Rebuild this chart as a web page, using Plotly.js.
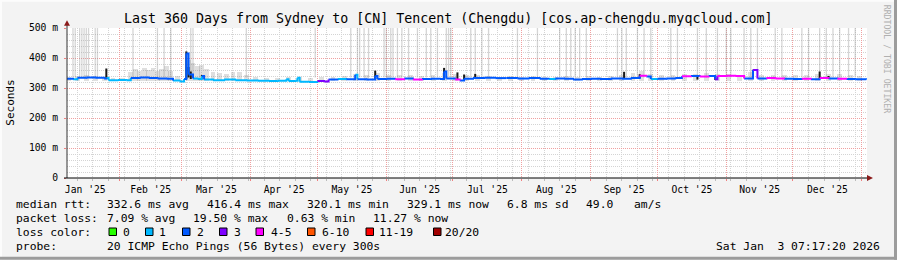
<!DOCTYPE html>
<html><head><meta charset="utf-8">
<script src="https://cdn.plot.ly/plotly-3.0.1.min.js"></script>
<style>html,body{margin:0;padding:0;background:#f3f3f3;}#chart{width:897px;height:260px;}</style>
</head><body><div id="chart"></div>
<script>
// ---------------- DATA ----------------
const rangeStart = '2025-01-08 07:17:20';
const rangeEnd = '2026-01-03 07:17:20';
const yTickVals = [0, 100, 200, 300, 400, 500];
const yTickText = ['0', '100 m', '200 m', '300 m', '400 m', '500 m'];

// median RTT (ms) and loss colour index (0..7)
const medDates = ['2025-01-08','2025-01-11','2025-01-13','2025-01-17','2025-01-21','2025-01-25','2025-01-26','2025-01-27','2025-01-31','2025-02-04',
'2025-02-06','2025-02-10','2025-02-14','2025-02-18','2025-02-22','2025-02-25','2025-02-28','2025-03-02','2025-03-03','2025-03-04',
'2025-03-06','2025-03-08','2025-03-10','2025-03-11','2025-03-15','2025-03-20','2025-03-25','2025-03-30','2025-04-04','2025-04-09',
'2025-04-13','2025-04-17','2025-04-18','2025-04-21','2025-04-22','2025-04-23','2025-04-27','2025-05-01','2025-05-04','2025-05-06',
'2025-05-10','2025-05-14','2025-05-18','2025-05-19','2025-05-23','2025-05-27','2025-05-28','2025-06-01','2025-06-05','2025-06-09',
'2025-06-13','2025-06-17','2025-06-21','2025-06-25','2025-06-27','2025-06-28','2025-07-02','2025-07-04','2025-07-06','2025-07-10',
'2025-07-15','2025-07-20','2025-07-25','2025-07-30','2025-08-04','2025-08-09','2025-08-13','2025-08-16','2025-08-20','2025-08-24',
'2025-08-28','2025-09-01','2025-09-05','2025-09-10','2025-09-15','2025-09-19','2025-09-23','2025-09-26','2025-09-28','2025-10-01',
'2025-10-05','2025-10-09','2025-10-12','2025-10-16','2025-10-20','2025-10-24','2025-10-27','2025-10-28','2025-11-01','2025-11-05',
'2025-11-09','2025-11-13','2025-11-15','2025-11-19','2025-11-23','2025-11-27','2025-12-01','2025-12-05','2025-12-09','2025-12-13',
'2025-12-17','2025-12-21','2025-12-25','2025-12-29','2026-01-03'];
const medValues = [331,329,334,335,334,332,333,326,327,326,
333,335,333,332,331,325,322,330,415,345,
332,330,340,328,326,328,326,325,324,323,
324,329,323,324,334,321,320,323,322,328,
330,329,344,329,328,340,330,331,329,332,
328,330,331,330,355,332,328,325,331,333,
334,333,333,332,333,331,330,332,331,328,
330,331,330,332,331,333,341,338,330,331,
332,333,339,340,338,340,329,340,341,340,
332,360,332,333,332,331,330,331,329,333,
332,331,330,329,328];
const medLoss = [2,1,2,2,2,2,1,1,1,1,
2,2,2,2,2,1,1,2,2,2,
1,1,2,1,1,1,1,1,1,1,
1,1,1,1,1,1,1,3,3,2,
1,2,1,2,2,2,2,2,4,2,
4,2,2,2,2,2,4,2,2,2,
2,2,2,2,2,2,1,2,2,2,
2,2,2,2,2,2,4,2,1,2,
2,2,4,2,4,2,3,4,4,4,
2,3,2,4,4,2,2,4,2,4,
2,4,2,2,2];

// broad smoke band (top of the grey smoke, ms)
const smokeDates = ['2025-01-09','2025-01-13','2025-01-17','2025-01-21','2025-01-25','2025-01-29','2025-02-02','2025-02-06','2025-02-08','2025-02-10',
'2025-02-12','2025-02-14','2025-02-16','2025-02-18','2025-02-20','2025-02-22','2025-02-24','2025-02-27','2025-03-04','2025-03-06',
'2025-03-08','2025-03-10','2025-03-12','2025-03-15','2025-03-18','2025-03-21','2025-03-24','2025-03-27','2025-03-30','2025-04-03',
'2025-04-08','2025-04-13','2025-04-18','2025-04-23','2025-04-28','2025-05-03','2025-05-08','2025-05-13','2025-05-18','2025-05-23',
'2025-05-28','2025-06-02','2025-06-07','2025-06-12','2025-06-17','2025-06-22','2025-06-27','2025-07-02','2025-07-07','2025-07-12',
'2025-07-17','2025-07-22','2025-07-27','2025-08-01','2025-08-06','2025-08-11','2025-08-16','2025-08-21','2025-08-26','2025-08-31',
'2025-09-05','2025-09-10','2025-09-15','2025-09-20','2025-09-24','2025-09-28','2025-10-03','2025-10-08','2025-10-13','2025-10-18',
'2025-10-23','2025-10-28','2025-11-02','2025-11-07','2025-11-12','2025-11-17','2025-11-22','2025-11-27','2025-12-02','2025-12-07',
'2025-12-12','2025-12-17','2025-12-22','2025-12-27','2025-12-31'];
const smokeTop = [338,340,342,340,338,332,333,352,362,358,
366,360,368,356,365,372,358,340,392,385,
375,378,365,352,350,347,352,355,345,336,
334,335,336,338,332,336,338,340,348,342,
350,345,342,344,341,343,350,346,345,344,
340,338,339,338,339,337,338,340,338,339,
338,340,345,350,356,348,342,345,347,348,
350,348,347,345,355,342,344,343,342,344,
348,346,348,345,340];
const smokeBase = 322;

// isolated pings reaching the top of the graph (light smoke)
const outlierDates = ['2025-01-11','2025-01-12','2025-01-14','2025-01-15','2025-01-16','2025-01-17','2025-01-18','2025-01-21','2025-01-22','2025-02-07',
'2025-02-18','2025-02-21','2025-02-24','2025-03-05','2025-03-06','2025-03-30','2025-04-30','2025-05-16','2025-05-19','2025-05-20',
'2025-05-22','2025-05-24','2025-05-31','2025-06-01','2025-06-03','2025-06-04','2025-06-06','2025-06-08','2025-06-11','2025-06-15',
'2025-06-19','2025-06-21','2025-06-24','2025-06-28','2025-06-29','2025-06-30','2025-07-09','2025-07-11','2025-07-14','2025-07-17',
'2025-07-30','2025-08-08','2025-08-18','2025-08-21','2025-08-23','2025-08-25','2025-08-27','2025-08-30','2025-09-13','2025-09-15',
'2025-09-17','2025-09-22','2025-09-25','2025-09-28','2025-10-07','2025-10-10','2025-10-19','2025-10-23','2025-10-28','2025-11-01',
'2025-11-03','2025-11-09','2025-11-12','2025-11-15','2025-11-23','2025-11-26','2025-12-05','2025-12-08','2025-12-13','2025-12-16',
'2025-12-19','2025-12-22','2025-12-26','2025-12-29'];
const outlierTop = 520;
const outlierBase = 335;

// dense dark smoke spikes
const darkDates = ['2025-01-26','2025-03-03','2025-03-04','2025-03-05','2025-03-10','2025-05-27','2025-06-27','2025-07-03','2025-07-06','2025-07-11',
'2025-09-16','2025-09-23','2025-10-19','2025-10-27','2025-11-13','2025-12-13','2025-12-17'];
const darkLow = [330,330,335,330,330,330,330,330,330,330,330,332,328,327,335,330,330];
const darkHigh = [365,422,370,355,343,358,367,352,345,347,354,346,340,340,361,355,340];

const lossColors = ['#26ff00','#00b8ff','#0059ff','#7e00ff','#ff00ff','#ff5500','#ff0000','#a10000'];
const lossLabels = ['0','1','2','3','4-5','6-10','11-19','20/20'];

// legend texts
const legendHeads = ['median rtt:', 'packet loss:', 'loss color:', 'probe:'];
const rttChunks = ['332.6 ms avg', '416.4 ms max', '320.1 ms min', '329.1 ms now', '6.8 ms sd', '49.0', 'am/s'];
const lossChunks = ['7.09 % avg', '19.50 % max', '0.63 % min', '11.27 % now'];
const probeText = '20 ICMP Echo Pings (56 Bytes) every 300s';
const stampText = 'Sat Jan  3 07:17:20 2026';
const titleText = 'Last 360 Days from Sydney to [CN] Tencent (Chengdu) [cos.ap-chengdu.myqcloud.com]';

// ---------------- LAYOUT HELPERS ----------------
const W = 897, H = 260, L = 67, R = 867, T = 28.3, B = 178.3;
const px = x => (x - L) / (R - L);
const py = y => (B - y) / (B - T);
const MONO = 'DejaVu Sans Mono, monospace';
const FS = 11.35;
const DAY = 86400000;
const rowY = [204.3, 218.3, 232.3, 246.3];
const rttX = [107.3, 207.3, 307.3, 407.3, 506.7, 585.7, 634.3];
const lossX = [107.3, 193.3, 286.7, 372.7];
const boxX = [109, 145.5, 182.5, 219.5, 256, 307.5, 366, 433.5];
const labX = [123.3, 159.3, 196.7, 234, 271, 321.7, 379.3, 445];

const traces = [];
traces.push({type:'bar', x:smokeDates, y:smokeTop.map(v=>v-smokeBase), base:smokeBase,
  width:2.2*DAY, marker:{color:'rgba(120,120,120,0.24)', line:{width:0}}, hoverinfo:'skip', showlegend:false});

const ox=[], oy=[];
outlierDates.forEach(d=>{ox.push(d,d,null); oy.push(outlierBase,outlierTop,null);});
traces.push({type:'scatter', mode:'lines', x:ox, y:oy, line:{color:'rgba(150,150,150,0.40)', width:1.3}, hoverinfo:'skip', showlegend:false});

const dx=[], dy=[];
darkDates.forEach((d,i)=>{dx.push(d,d,null); dy.push(darkLow[i],darkHigh[i],null);});
traces.push({type:'scatter', mode:'lines', x:dx, y:dy, line:{color:'#1a1a1a', width:2}, hoverinfo:'skip', showlegend:false});

lossColors.forEach((c,k)=>{
  const x=[], y=[];
  for(let i=0;i<medDates.length-1;i++){
    if(medLoss[i]===k){ x.push(medDates[i], medDates[i+1], null); y.push(medValues[i], medValues[i+1], null); }
  }
  if(x.length) traces.push({type:'scatter', mode:'lines', x:x, y:y, line:{color:c, width:2, shape:'hv'}, hoverinfo:'skip', showlegend:false});
});

const ann = [];
const shapes = [];
function txt(t, x, y, anchor, extra){
  ann.push(Object.assign({xref:'paper', yref:'paper', x:px(x), y:py(y), xanchor:anchor||'left', yanchor:'middle', showarrow:false,
    borderpad:0, borderwidth:0, text:t.replace(/ /g,'&nbsp;'), font:{family:MONO, size:FS, color:'#000'}}, extra||{}));
}
legendHeads.forEach((t,i)=>txt(t, 16, rowY[i]));
rttChunks.forEach((t,i)=>txt(t, rttX[i], rowY[0]));
lossChunks.forEach((t,i)=>txt(t, lossX[i], rowY[1]));
txt(probeText, 107.3, rowY[3]);
lossColors.forEach((c,i)=>{
  shapes.push({type:'rect', xref:'paper', yref:'paper', x0:px(boxX[i]), x1:px(boxX[i]+7.5), y0:py(228.3), y1:py(235.8), fillcolor:c, line:{color:'#000', width:1}});
  txt(lossLabels[i], labX[i], rowY[2]);
});
txt(stampText, 880, rowY[3], 'right');
txt(titleText, 448, 19, 'center', {font:{family:MONO, size:13.3, color:'#000'}});
txt('Seconds', 11, 103, 'center', {textangle:-90, font:{family:MONO, size:11, color:'#000'}});
txt('RRDTOOL / TOBI OETIKER', 887, 60, 'center', {textangle:90, font:{family:MONO, size:8.2, color:'#b0b0b0'}});

// axes lines + arrows
shapes.push({type:'line', xref:'paper', yref:'paper', x0:px(67), x1:px(67), y0:py(B), y1:py(24), line:{color:'#333', width:1}});
shapes.push({type:'path', xref:'paper', yref:'paper', path:`M ${px(64)} ${py(26)} L ${px(70)} ${py(26)} L ${px(67)} ${py(20.5)} Z`, fillcolor:'#8b1a1a', line:{width:0}});
shapes.push({type:'line', xref:'paper', yref:'paper', x0:px(64), x1:px(869), y0:py(B), y1:py(B), line:{color:'#000', width:1}});
shapes.push({type:'path', xref:'paper', yref:'paper', path:`M ${px(867)} ${py(175.3)} L ${px(867)} ${py(181.3)} L ${px(873)} ${py(B)} Z`, fillcolor:'#8b1a1a', line:{width:0}});
// frame
shapes.push({type:'line', xref:'paper', yref:'paper', x0:px(0), x1:px(897), y0:py(1), y1:py(1), line:{color:'#fcfcfc', width:2}});
shapes.push({type:'line', xref:'paper', yref:'paper', x0:px(1), x1:px(1), y0:py(0), y1:py(260), line:{color:'#fcfcfc', width:2}});
shapes.push({type:'line', xref:'paper', yref:'paper', x0:px(0), x1:px(897), y0:py(258.5), y1:py(258.5), line:{color:'#9c9c9c', width:3}});
shapes.push({type:'line', xref:'paper', yref:'paper', x0:px(895.5), x1:px(895.5), y0:py(0), y1:py(260), line:{color:'#9c9c9c', width:3}});

const layout = {
  width:W, height:H,
  margin:{l:L, r:W-R, t:T, b:H-B, pad:0},
  paper_bgcolor:'#f3f3f3', plot_bgcolor:'#ffffff',
  showlegend:false, bargap:0,
  xaxis:{type:'date', range:[rangeStart, rangeEnd], dtick:'M1', tick0:'2025-01-01', tickformat:"%b '%y",
    ticklabelmode:'period', ticks:'outside', ticklen:2, tickcolor:'#f08080', tickwidth:1,
    showgrid:true, gridcolor:'#f0a0a0', griddash:'1px,1px', gridwidth:1,
    minor:{dtick:7*DAY, tick0:'2025-01-06', showgrid:true, gridcolor:'#d4d4d4', griddash:'1px,1px', ticks:'outside', ticklen:2, tickcolor:'#bbbbbb'},
    showline:false, zeroline:false, fixedrange:true,
    tickfont:{family:MONO, size:9.7, color:'#000'}},
  yaxis:{range:[0,500], tickvals:yTickVals, ticktext:yTickText, ticks:'outside', ticklen:2, tickcolor:'#f08080',
    showgrid:true, gridcolor:'#f0a0a0', griddash:'1px,1px', gridwidth:1,
    minor:{dtick:20, showgrid:true, gridcolor:'#d4d4d4', griddash:'1px,1px'},
    showline:false, zeroline:false, fixedrange:true, ticklabelstandoff:4,
    tickfont:{family:MONO, size:9.7, color:'#000'}},
  annotations:ann, shapes:shapes
};
Plotly.newPlot('chart', traces, layout, {staticPlot:true, displayModeBar:false});
</script></body></html>
